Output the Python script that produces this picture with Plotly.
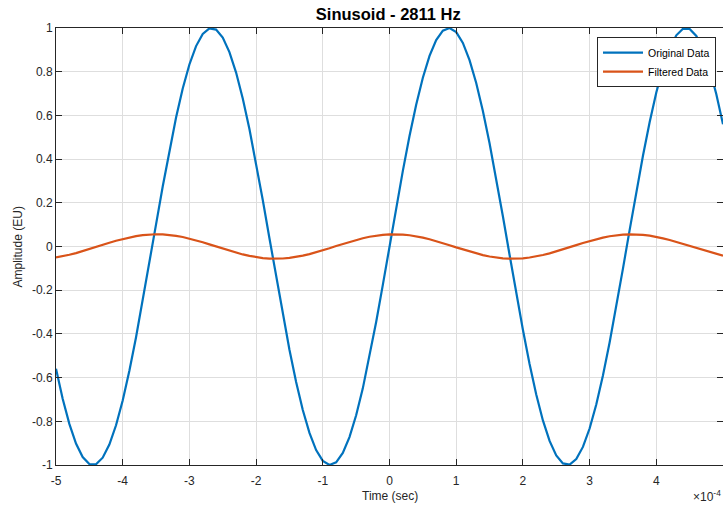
import plotly.graph_objects as go

# sample times (s), 10 us spacing as seen in the polyline sampling
time_s = [k * 1e-5 for k in range(-50, 51)]

original_data = [
    -0.5594, -0.6965, -0.8118, -0.9018, -0.9636, -0.9956, -0.9966, -0.9666, -0.9064, -0.8181,
    -0.7045, -0.5689, -0.4155, -0.2492, -0.0751, 0.1012, 0.2745, 0.4391, 0.5903, 0.7229,
    0.8330, 0.9172, 0.9730, 0.9984, 0.9928, 0.9562, 0.8899, 0.7959, 0.6772, 0.5374,
    0.3809, 0.2125, 0.0375, -0.1386, -0.3105, -0.4727, -0.6201, -0.7484, -0.8531, -0.9316,
    -0.9810, -0.9998, -0.9876, -0.9447, -0.8722, -0.7727, -0.6492, -0.5054, -0.3459, -0.1757,
    0.0,
    0.1757, 0.3459, 0.5054, 0.6492, 0.7727, 0.8722, 0.9447, 0.9876, 0.9998, 0.9810,
    0.9316, 0.8531, 0.7484, 0.6201, 0.4727, 0.3105, 0.1386, -0.0375, -0.2125, -0.3809,
    -0.5374, -0.6772, -0.7959, -0.8899, -0.9562, -0.9928, -0.9984, -0.9730, -0.9172, -0.8330,
    -0.7229, -0.5903, -0.4391, -0.2745, -0.1012, 0.0751, 0.2492, 0.4155, 0.5689, 0.7045,
    0.8181, 0.9064, 0.9666, 0.9966, 0.9956, 0.9636, 0.9018, 0.8118, 0.6965, 0.5594,
]

filtered_data = [
    -0.0499, -0.0446, -0.0380, -0.0302, -0.0214, -0.0120, -0.0022, 0.0077, 0.0173, 0.0264,
    0.0346, 0.0418, 0.0477, 0.0521, 0.0549, 0.0560, 0.0553, 0.0529, 0.0489, 0.0433,
    0.0364, 0.0284, 0.0195, 0.0099, 0.0001, -0.0097, -0.0193, -0.0282, -0.0363, -0.0432,
    -0.0488, -0.0529, -0.0553, -0.0560, -0.0550, -0.0522, -0.0478, -0.0420, -0.0348, -0.0266,
    -0.0175, -0.0079, 0.0020, 0.0118, 0.0212, 0.0300, 0.0378, 0.0445, 0.0498, 0.0535,
    0.0556,
    0.0559, 0.0545, 0.0514, 0.0467, 0.0406, 0.0331, 0.0247, 0.0155, 0.0058, -0.0041,
    -0.0138, -0.0232, -0.0318, -0.0394, -0.0458, -0.0507, -0.0541, -0.0558, -0.0558, -0.0540,
    -0.0505, -0.0455, -0.0391, -0.0314, -0.0228, -0.0134, -0.0037, 0.0062, 0.0159, 0.0251,
    0.0335, 0.0408, 0.0469, 0.0516, 0.0546, 0.0559, 0.0555, 0.0534, 0.0496, 0.0443,
    0.0375, 0.0297, 0.0208, 0.0114, 0.0016, -0.0083, -0.0179, -0.0269, -0.0351, -0.0423,
]

x_tick_vals = [-5e-4, -4e-4, -3e-4, -2e-4, -1e-4, 0, 1e-4, 2e-4, 3e-4, 4e-4, 5e-4]
x_tick_text = ["-5", "-4", "-3", "-2", "-1", "0", "1", "2", "3", "4", "5"]
y_tick_vals = [-1, -0.8, -0.6, -0.4, -0.2, 0, 0.2, 0.4, 0.6, 0.8, 1]
y_tick_text = ["-1", "-0.8", "-0.6", "-0.4", "-0.2", "0", "0.2", "0.4", "0.6", "0.8", "1"]

FONT = "Liberation Sans, Arial, Helvetica, sans-serif"
AX = "#262626"

fig = go.Figure()
fig.add_trace(go.Scatter(x=time_s, y=original_data, mode="lines", name="Original Data",
                         line=dict(color="#0072BD", width=2.2)))
fig.add_trace(go.Scatter(x=time_s, y=filtered_data, mode="lines", name="Filtered Data",
                         line=dict(color="#D95319", width=2.2)))

axis_common = dict(
    ticks="inside", ticklen=6, tickcolor=AX, tickwidth=1,
    showline=True, linecolor=AX, linewidth=1, mirror="ticks",
    showgrid=True, gridcolor="#dedede", gridwidth=1, zeroline=False,
    tickfont=dict(family=FONT, size=12, color=AX),
)

fig.update_xaxes(range=[-5e-4, 5e-4], tickmode="array", tickvals=x_tick_vals,
                 ticktext=x_tick_text, ticklabelstandoff=5, **axis_common)
fig.update_yaxes(range=[-1, 1], tickmode="array", tickvals=y_tick_vals,
                 ticktext=y_tick_text, ticklabelstandoff=0, **axis_common)

fig.update_layout(
    width=723, height=506,
    margin=dict(l=56, r=0, t=28, b=41),
    paper_bgcolor="white", plot_bgcolor="white",
    title=dict(text="<b>Sinusoid - 2811 Hz</b>", x=0.537, xanchor="center",
               y=1 - 14 / 506, yanchor="middle", yref="container",
               font=dict(family=FONT, size=16.5, color="black")),
    showlegend=True,
    legend=dict(x=0.9895, y=0.979, xanchor="right", yanchor="top",
                bgcolor="white", bordercolor=AX, borderwidth=1,
                font=dict(family=FONT, size=10.5, color="black"),
                tracegroupgap=0, itemwidth=40),
    annotations=[
        dict(text="Time (sec)", x=0.5, y=-0.070, xref="paper", yref="paper",
             xanchor="center", yanchor="middle", showarrow=False,
             font=dict(family=FONT, size=12, color=AX)),
        dict(text="Amplitude (EU)", x=-0.057, y=0.5, xref="paper", yref="paper",
             xanchor="center", yanchor="middle", textangle=-90, showarrow=False,
             font=dict(family=FONT, size=12, color=AX)),
        dict(text="×10<sup>-4</sup>", x=1.0, y=-0.072, xref="paper", yref="paper",
             xanchor="right", yanchor="middle", showarrow=False,
             font=dict(family=FONT, size=12, color=AX)),
    ],
)

fig.write_html("out.html", config={"displayModeBar": False},
               post_script="document.body.style.margin='0';document.body.style.overflow='hidden';")
